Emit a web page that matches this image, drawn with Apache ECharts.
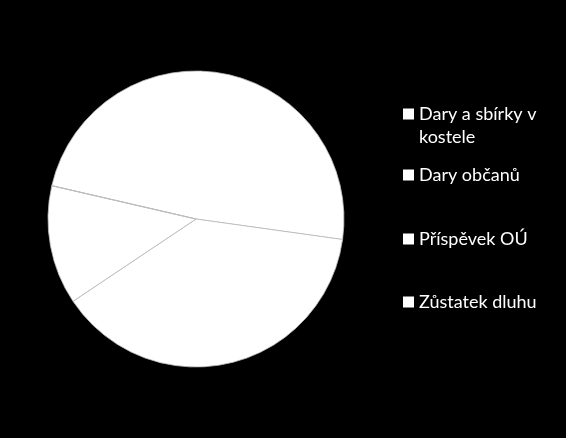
<!DOCTYPE html>
<html>
<head>
<meta charset="utf-8">
<script src="https://cdn.jsdelivr.net/npm/echarts@6/dist/echarts.min.js"></script>
<style>
  html, body { margin: 0; padding: 0; background: #000; }
  #main { width: 566px; height: 438px; }
</style>
</head>
<body>
<div id="main"></div>
<script>
// categories and their shares (%)
var categories = ['Dary a sbírky v kostele', 'Dary občanů', 'Příspěvek OÚ', 'Zůstatek dluhu'];
var values = [48.6, 38.4, 13.0, 0];
// legend row centres (px from top)
var legendRows = [114, 175, 239, 302];

var myChart = echarts.init(document.getElementById('main'));

var legends = categories.map(function (name, i) {
    var twoLine = name === 'Dary a sbírky v kostele';
    return {
        data: [name],
        left: 403,
        // the wrapped item carries a blank first line so its square sits on line one
        top: legendRows[i] - 11.5 - (twoLine ? 23 : 0),
        orient: 'vertical',
        padding: 0,
        icon: 'rect',
        itemWidth: 11,
        itemHeight: 11,
        selectedMode: false,
        itemStyle: { borderWidth: 0, color: '#fff' },
        formatter: function (n) {
            return n === 'Dary a sbírky v kostele' ? ' \nDary a sbírky v\nkostele' : n;
        },
        textStyle: {
            color: '#fff',
            fontFamily: 'Lato',
            fontSize: 18,
            lineHeight: 23
        }
    };
});

var option = {
    backgroundColor: '#000',
    animation: false,
    color: ['#fff', '#fff', '#fff', '#fff'],
    legend: legends,
    series: [
        {
            type: 'pie',
            center: [196, 219],
            radius: 148,
            startAngle: 167,
            clockwise: true,
            label: { show: false },
            labelLine: { show: false },
            emphasis: { disabled: true },
            itemStyle: {
                borderColor: '#bdbdbd',
                borderWidth: 0.8
            },
            data: categories.map(function (c, i) {
                return { name: c, value: values[i] };
            })
        }
    ]
};

myChart.setOption(option);
</script>
</body>
</html>
